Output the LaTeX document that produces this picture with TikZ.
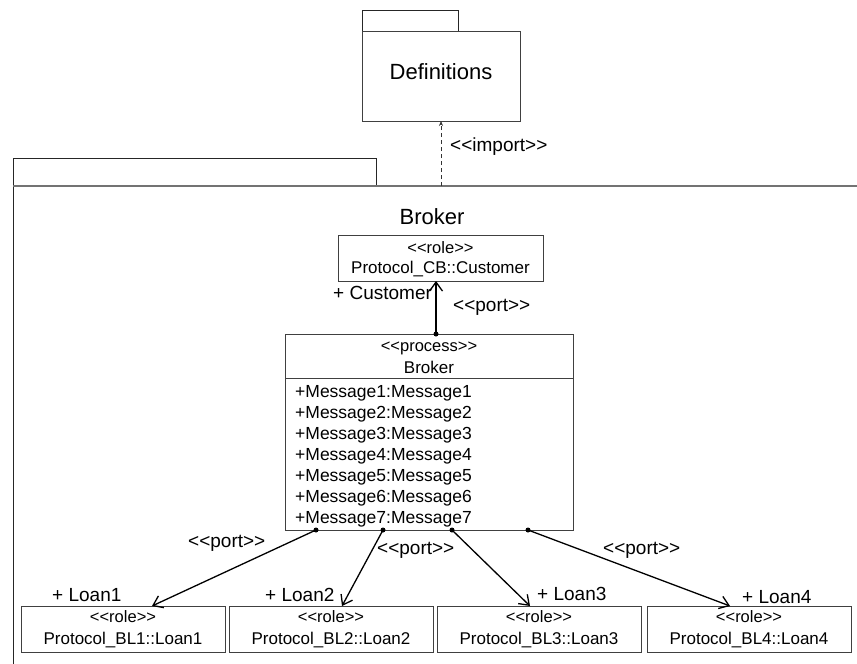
\documentclass[tikz,border=0pt]{standalone}
\usepackage{fontspec}
\setmainfont{Liberation Sans}
\usetikzlibrary{arrows.meta,calc}
\begin{document}
\begin{tikzpicture}[x=1pt,y=-1pt,
  box/.style={draw=black!75, line width=0.9pt, rectangle, inner sep=0pt, outer sep=0pt},
  pkgline/.style={draw=black!85, line width=0.9pt},
  txt/.style={inner sep=0pt, font=\fontsize{17}{20}\selectfont},
  stereo/.style={inner sep=0pt, font=\fontsize{16.5}{18}\selectfont},
  lbl/.style={inner sep=0pt, font=\fontsize{19}{22}\selectfont},
  big/.style={inner sep=0pt, font=\fontsize{22}{26}\selectfont},
  conn/.style={line width=1.3pt, -{Straight Barb[length=9pt,width=13pt]}},
  portdot/.style={circle, fill=black, inner sep=0pt, minimum size=5pt},
]
\useasboundingbox (0,0) rectangle (857,664);
\fill[white] (0,0) rectangle (857,664);

% Definitions package
\draw[pkgline] (362,31) -- (362,10) -- (458,10) -- (458,31);
\node[box, minimum width=158pt, minimum height=90pt] (defs) at (441,76) {};
\node[big] (defstxt) at (441,72) {Definitions};

% Broker package frame
\draw[pkgline] (13,664) -- (13,158) -- (376,158) -- (376,186);
\draw[draw=black!55, line width=1.6pt] (13,186) -- (857,186);
\coordinate (brokerpkg) at (441,186);
\node[big] (brokertitle) at (432,217) {Broker};

% import
\draw[black!80, line width=0.8pt, dash pattern=on 4pt off 3pt, -{Stealth[length=5pt,width=4pt]}] (brokerpkg) -- (defs.south);
\node[lbl, anchor=west] (imp) at (450,147) {<{}<import>{}>};

% Customer role
\node[box, minimum width=205pt, minimum height=46pt] (cust) at (440.5,258) {};
\node[stereo] (custst) at (440.5,248) {<{}<role>{}>};
\node[txt] (custtx) at (440.5,269) {Protocol\_CB::Customer};

% Process box
\node[box, minimum width=288pt, minimum height=196pt] (proc) at (429,432) {};
\draw[black!75, line width=0.9pt] (proc.west |- 0,378) -- (proc.east |- 0,378);
\node[stereo] (procst) at (429,348) {<{}<process>{}>};
\node[txt] (procnm) at (429,367) {Broker};
\foreach \i in {1,...,7} {
  \node[txt, anchor=west, font=\fontsize{17.5}{20}\selectfont] (m\i) at (295,{393+21*(\i-1)}) {+Message\i:Message\i};
}

% Customer port
\node[portdot] (pc) at ($(proc.north)+(7,0)$) {};
\draw[conn] (pc.center) -- ($(cust.south)+(-4.5,0)$);
\node[lbl, anchor=west] (custlbl) at (333,293) {+ Customer};
\node[lbl, anchor=west] (custport) at (453,307) {<{}<port>{}>};

% Loan roles
\foreach \n/\cx in {1/123, 2/331, 3/539, 4/749} {
  \node[box, minimum width=204pt, minimum height=46pt] (loan\n) at (\cx,629) {};
  \node[stereo] (loanst\n) at (\cx,617) {<{}<role>{}>};
  \node[txt] (loantx\n) at (\cx,640) {Protocol\_BL\n::Loan\n};
}

% Ports on process bottom
\node[portdot] (p1) at (316,530) {};
\node[portdot] (p2) at (383,530) {};
\node[portdot] (p3) at (452,530) {};
\node[portdot] (p4) at (528,530) {};

\draw[conn] (p1.center) -- ($(loan1.north)+(29,0)$);
\draw[conn] (p2.center) -- ($(loan2.north)+(11,0)$);
\draw[conn] (p3.center) -- ($(loan3.north)+(-9,0)$);
\draw[conn] (p4.center) -- ($(loan4.north)+(-19,0)$);

\node[lbl, anchor=west] (port1) at (188,543) {<{}<port>{}>};
\node[lbl, anchor=west] (port2) at (377,550) {<{}<port>{}>};
\node[lbl, anchor=west] (port3) at (603,550) {<{}<port>{}>};

\node[lbl, anchor=west] (l1) at (52,595) {+ Loan1};
\node[lbl, anchor=west] (l2) at (265,595) {+ Loan2};
\node[lbl, anchor=west] (l3) at (537,594) {+ Loan3};
\node[lbl, anchor=west] (l4) at (742,597) {+ Loan4};
\end{tikzpicture}
\end{document}
